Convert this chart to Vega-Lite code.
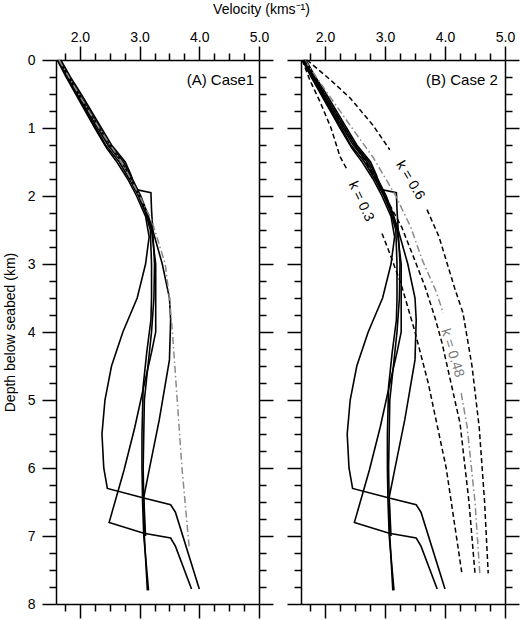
{
  "$schema": "https://vega.github.io/schema/vega-lite/v6.json",
  "padding": {"left": 3, "top": 3, "right": 0, "bottom": 0},
  "background": "white",
  "title": {"text": "Velocity (kms⁻¹)", "fontSize": 14, "fontWeight": "normal", "font": "Liberation Sans", "anchor": "middle", "offset": 13, "color": "black"},
  "config": {
    "view": {"stroke": null},
    "font": "Liberation Sans",
    "axis": {"domainColor": "black", "domainWidth": 1.5, "tickColor": "black", "tickWidth": 1.5, "labelColor": "black", "labelFontSize": 14, "titleColor": "black", "titleFontSize": 14, "titleFontWeight": "normal", "grid": false, "labelFlush": false, "labelOverlap": false}
  },
  "datasets": {
    "profiles": [
      {"id": "P1", "d": 0, "v": 1.62}, {"id": "P1", "d": 0.25, "v": 1.77}, {"id": "P1", "d": 0.5, "v": 1.93}, {"id": "P1", "d": 0.75, "v": 2.09}, {"id": "P1", "d": 1.0, "v": 2.25}, {"id": "P1", "d": 1.3, "v": 2.45}, {"id": "P1", "d": 1.5, "v": 2.62}, {"id": "P1", "d": 1.75, "v": 2.8}, {"id": "P1", "d": 2.0, "v": 2.95}, {"id": "P1", "d": 2.3, "v": 3.1}, {"id": "P1", "d": 2.6, "v": 3.16}, {"id": "P1", "d": 3.0, "v": 3.1}, {"id": "P1", "d": 3.5, "v": 2.96}, {"id": "P1", "d": 4.0, "v": 2.72}, {"id": "P1", "d": 4.5, "v": 2.53}, {"id": "P1", "d": 5.0, "v": 2.42}, {"id": "P1", "d": 5.5, "v": 2.37}, {"id": "P1", "d": 6.0, "v": 2.4}, {"id": "P1", "d": 6.3, "v": 2.46}, {"id": "P1", "d": 6.44, "v": 3.07}, {"id": "P1", "d": 6.54, "v": 3.52}, {"id": "P1", "d": 6.65, "v": 3.6}, {"id": "P1", "d": 7.78, "v": 4.0},
      {"id": "P2", "d": 0, "v": 1.65}, {"id": "P2", "d": 0.25, "v": 1.8}, {"id": "P2", "d": 0.5, "v": 1.97}, {"id": "P2", "d": 0.75, "v": 2.13}, {"id": "P2", "d": 1.0, "v": 2.3}, {"id": "P2", "d": 1.25, "v": 2.47}, {"id": "P2", "d": 1.5, "v": 2.7}, {"id": "P2", "d": 1.75, "v": 2.86}, {"id": "P2", "d": 2.0, "v": 3.0}, {"id": "P2", "d": 2.25, "v": 3.12}, {"id": "P2", "d": 2.5, "v": 3.2}, {"id": "P2", "d": 3.0, "v": 3.27}, {"id": "P2", "d": 3.5, "v": 3.27}, {"id": "P2", "d": 4.0, "v": 3.27}, {"id": "P2", "d": 4.3, "v": 3.2}, {"id": "P2", "d": 4.8, "v": 3.07}, {"id": "P2", "d": 5.4, "v": 2.92}, {"id": "P2", "d": 6.03, "v": 2.74}, {"id": "P2", "d": 6.8, "v": 2.49}, {"id": "P2", "d": 6.96, "v": 3.07}, {"id": "P2", "d": 7.03, "v": 3.52}, {"id": "P2", "d": 7.15, "v": 3.6}, {"id": "P2", "d": 7.78, "v": 3.87},
      {"id": "P3", "d": 0, "v": 1.64}, {"id": "P3", "d": 0.25, "v": 1.79}, {"id": "P3", "d": 0.5, "v": 1.95}, {"id": "P3", "d": 0.75, "v": 2.11}, {"id": "P3", "d": 1.0, "v": 2.27}, {"id": "P3", "d": 1.25, "v": 2.43}, {"id": "P3", "d": 1.5, "v": 2.66}, {"id": "P3", "d": 1.75, "v": 2.83}, {"id": "P3", "d": 2.0, "v": 2.98}, {"id": "P3", "d": 2.25, "v": 3.1}, {"id": "P3", "d": 2.5, "v": 3.18}, {"id": "P3", "d": 3.0, "v": 3.2}, {"id": "P3", "d": 3.5, "v": 3.2}, {"id": "P3", "d": 3.82, "v": 3.19}, {"id": "P3", "d": 4.3, "v": 3.12}, {"id": "P3", "d": 4.8, "v": 3.06}, {"id": "P3", "d": 5.5, "v": 3.04}, {"id": "P3", "d": 6.0, "v": 3.04}, {"id": "P3", "d": 6.5, "v": 3.05}, {"id": "P3", "d": 7.0, "v": 3.07}, {"id": "P3", "d": 7.5, "v": 3.12}, {"id": "P3", "d": 7.8, "v": 3.15},
      {"id": "P4", "d": 0, "v": 1.66}, {"id": "P4", "d": 0.25, "v": 1.82}, {"id": "P4", "d": 0.5, "v": 1.99}, {"id": "P4", "d": 0.75, "v": 2.16}, {"id": "P4", "d": 1.0, "v": 2.33}, {"id": "P4", "d": 1.25, "v": 2.5}, {"id": "P4", "d": 1.5, "v": 2.73}, {"id": "P4", "d": 1.75, "v": 2.88}, {"id": "P4", "d": 2.0, "v": 3.02}, {"id": "P4", "d": 2.25, "v": 3.13}, {"id": "P4", "d": 2.5, "v": 3.22}, {"id": "P4", "d": 3.0, "v": 3.38}, {"id": "P4", "d": 3.5, "v": 3.5}, {"id": "P4", "d": 3.82, "v": 3.52}, {"id": "P4", "d": 4.41, "v": 3.5}, {"id": "P4", "d": 5.29, "v": 3.33}, {"id": "P4", "d": 6.03, "v": 3.16}, {"id": "P4", "d": 6.43, "v": 3.07}, {"id": "P4", "d": 7.0, "v": 3.1},
      {"id": "P5", "d": 0, "v": 1.68}, {"id": "P5", "d": 0.25, "v": 1.84}, {"id": "P5", "d": 0.5, "v": 2.02}, {"id": "P5", "d": 0.75, "v": 2.19}, {"id": "P5", "d": 1.0, "v": 2.36}, {"id": "P5", "d": 1.25, "v": 2.53}, {"id": "P5", "d": 1.5, "v": 2.76}, {"id": "P5", "d": 1.7, "v": 2.86}, {"id": "P5", "d": 1.9, "v": 2.92}, {"id": "P5", "d": 1.95, "v": 3.19}, {"id": "P5", "d": 2.2, "v": 3.2}, {"id": "P5", "d": 2.5, "v": 3.22}, {"id": "P5", "d": 3.0, "v": 3.25}, {"id": "P5", "d": 3.5, "v": 3.24}, {"id": "P5", "d": 4.0, "v": 3.2}, {"id": "P5", "d": 5.0, "v": 3.08}, {"id": "P5", "d": 6.0, "v": 3.06}, {"id": "P5", "d": 7.0, "v": 3.08}, {"id": "P5", "d": 7.8, "v": 3.13}
    ],
    "grayA": [
      {"d": 0, "v": 1.65}, {"d": 0.5, "v": 1.98}, {"d": 1.0, "v": 2.32}, {"d": 1.5, "v": 2.7}, {"d": 2.0, "v": 3.0}, {"d": 2.35, "v": 3.2}, {"d": 3.0, "v": 3.43}, {"d": 3.5, "v": 3.5}, {"d": 4.0, "v": 3.55}, {"d": 5.0, "v": 3.63}, {"d": 6.0, "v": 3.71}, {"d": 7.16, "v": 3.83}
    ],
    "curvesB": [
      {"curve": "k0.3", "seg": "a", "d": 0, "v": 1.62}, {"curve": "k0.3", "seg": "a", "d": 0.3, "v": 1.75}, {"curve": "k0.3", "seg": "a", "d": 0.62, "v": 1.92}, {"curve": "k0.3", "seg": "a", "d": 1.0, "v": 2.1}, {"curve": "k0.3", "seg": "a", "d": 1.42, "v": 2.25}, {"curve": "k0.3", "seg": "a", "d": 1.6, "v": 2.36},
      {"curve": "k0.3", "seg": "b", "d": 2.55, "v": 2.95}, {"curve": "k0.3", "seg": "b", "d": 2.8, "v": 3.06}, {"curve": "k0.3", "seg": "b", "d": 3.3, "v": 3.27}, {"curve": "k0.3", "seg": "b", "d": 4.0, "v": 3.5}, {"curve": "k0.3", "seg": "b", "d": 4.75, "v": 3.72}, {"curve": "k0.3", "seg": "b", "d": 6.0, "v": 4.02}, {"curve": "k0.3", "seg": "b", "d": 7.54, "v": 4.28},
      {"curve": "kx", "seg": "a", "d": 0, "v": 1.65}, {"curve": "kx", "seg": "a", "d": 0.5, "v": 1.98}, {"curve": "kx", "seg": "a", "d": 1.0, "v": 2.33}, {"curve": "kx", "seg": "a", "d": 1.5, "v": 2.68}, {"curve": "kx", "seg": "a", "d": 2.0, "v": 3.0}, {"curve": "kx", "seg": "a", "d": 2.46, "v": 3.28}, {"curve": "kx", "seg": "a", "d": 2.84, "v": 3.45}, {"curve": "kx", "seg": "a", "d": 3.34, "v": 3.67}, {"curve": "kx", "seg": "a", "d": 3.78, "v": 3.83}, {"curve": "kx", "seg": "a", "d": 4.16, "v": 3.95}, {"curve": "kx", "seg": "a", "d": 5.34, "v": 4.25}, {"curve": "kx", "seg": "a", "d": 6.5, "v": 4.4}, {"curve": "kx", "seg": "a", "d": 7.55, "v": 4.5},
      {"curve": "k0.6", "seg": "a", "d": 0, "v": 1.7}, {"curve": "k0.6", "seg": "a", "d": 0.3, "v": 2.1}, {"curve": "k0.6", "seg": "a", "d": 0.56, "v": 2.42}, {"curve": "k0.6", "seg": "a", "d": 0.96, "v": 2.8}, {"curve": "k0.6", "seg": "a", "d": 1.32, "v": 3.08},
      {"curve": "k0.6", "seg": "b", "d": 2.2, "v": 3.7}, {"curve": "k0.6", "seg": "b", "d": 2.6, "v": 3.9}, {"curve": "k0.6", "seg": "b", "d": 3.38, "v": 4.17}, {"curve": "k0.6", "seg": "b", "d": 3.72, "v": 4.3}, {"curve": "k0.6", "seg": "b", "d": 4.5, "v": 4.45}, {"curve": "k0.6", "seg": "b", "d": 5.4, "v": 4.57}, {"curve": "k0.6", "seg": "b", "d": 6.5, "v": 4.66}, {"curve": "k0.6", "seg": "b", "d": 7.55, "v": 4.72}
    ],
    "grayB": [
      {"seg": "a", "d": 0, "v": 1.66}, {"seg": "a", "d": 0.5, "v": 2.05}, {"seg": "a", "d": 1.0, "v": 2.45}, {"seg": "a", "d": 1.43, "v": 2.8}, {"seg": "a", "d": 2.0, "v": 3.18}, {"seg": "a", "d": 2.46, "v": 3.43}, {"seg": "a", "d": 2.94, "v": 3.62}, {"seg": "a", "d": 3.4, "v": 3.85}, {"seg": "a", "d": 3.72, "v": 3.97},
      {"seg": "b", "d": 4.9, "v": 4.27}, {"seg": "b", "d": 5.4, "v": 4.37}, {"seg": "b", "d": 6.5, "v": 4.5}, {"seg": "b", "d": 7.55, "v": 4.58}
    ]
  },
  "hconcat": [
    {
      "width": 203,
      "height": 544,
      "layer": [
        {
          "data": {"name": "profiles"},
          "mark": {"type": "line", "color": "black", "strokeWidth": 1.6},
          "encoding": {
            "x": {"field": "v", "type": "quantitative", "scale": {"domain": [1.6, 5], "nice": false, "zero": false},
              "axis": {"orient": "top", "title": null, "values": [1.75, 2, 2.25, 2.5, 2.75, 3, 3.25, 3.5, 3.75, 4, 4.25, 4.5, 4.75, 5], "labelExpr": "datum.value % 1 === 0 ? format(datum.value, '.1f') : ''", "labelPadding": 2, "tickSize": {"condition": {"test": "datum.value % 1 === 0", "value": 14}, "value": 7}}},
            "y": {"field": "d", "type": "quantitative", "scale": {"domain": [0, 8], "reverse": true, "nice": false, "zero": false},
              "axis": {"orient": "left", "title": "Depth below seabed (km)", "titlePadding": 10, "values": [0, 0.25, 0.5, 0.75, 1, 1.25, 1.5, 1.75, 2, 2.25, 2.5, 2.75, 3, 3.25, 3.5, 3.75, 4, 4.25, 4.5, 4.75, 5, 5.25, 5.5, 5.75, 6, 6.25, 6.5, 6.75, 7, 7.25, 7.5, 7.75, 8], "labelExpr": "datum.value % 1 === 0 ? format(datum.value, 'd') : ''", "labelPadding": 7, "tickSize": {"condition": {"test": "datum.value % 1 === 0", "value": 14}, "value": 7}}},
            "detail": {"field": "id"},
            "order": {"field": "d", "type": "quantitative"}
          }
        },
        {
          "data": {"name": "grayA"},
          "mark": {"type": "line", "color": "#8a8a8a", "strokeWidth": 1.5, "strokeDash": [7, 3, 1.5, 3]},
          "encoding": {
            "x": {"field": "v", "type": "quantitative",
              "axis": {"orient": "bottom", "title": null, "labels": false, "values": [1.75, 2, 2.25, 2.5, 2.75, 3, 3.25, 3.5, 3.75, 4, 4.25, 4.5, 4.75, 5], "tickSize": {"condition": {"test": "datum.value % 1 === 0", "value": 14}, "value": 7}}},
            "y": {"field": "d", "type": "quantitative",
              "axis": {"orient": "right", "title": null, "labels": false, "values": [0, 0.25, 0.5, 0.75, 1, 1.25, 1.5, 1.75, 2, 2.25, 2.5, 2.75, 3, 3.25, 3.5, 3.75, 4, 4.25, 4.5, 4.75, 5, 5.25, 5.5, 5.75, 6, 6.25, 6.5, 6.75, 7, 7.25, 7.5, 7.75, 8], "tickSize": {"condition": {"test": "datum.value % 1 === 0", "value": 14}, "value": 7}}},
            "order": {"field": "d", "type": "quantitative"}
          }
        },
        {
          "data": {"values": [{}]},
          "mark": {"type": "text", "align": "right", "baseline": "middle", "fontSize": 15, "color": "black"},
          "encoding": {
            "x": {"datum": 4.92, "type": "quantitative", "axis": null},
            "y": {"datum": 0.29, "type": "quantitative", "axis": null},
            "text": {"value": "(A) Case1"}
          }
        }
      ],
      "resolve": {"axis": {"x": "independent", "y": "independent"}}
    },
    {
      "width": 204,
      "height": 544,
      "layer": [
        {
          "data": {"name": "profiles"},
          "mark": {"type": "line", "color": "black", "strokeWidth": 1.6},
          "encoding": {
            "x": {"field": "v", "type": "quantitative", "scale": {"domain": [1.6, 5], "nice": false, "zero": false},
              "axis": {"orient": "top", "title": null, "values": [1.75, 2, 2.25, 2.5, 2.75, 3, 3.25, 3.5, 3.75, 4, 4.25, 4.5, 4.75, 5], "labelExpr": "datum.value % 1 === 0 ? format(datum.value, '.1f') : ''", "labelPadding": 2, "tickSize": {"condition": {"test": "datum.value % 1 === 0", "value": 14}, "value": 7}}},
            "y": {"field": "d", "type": "quantitative", "scale": {"domain": [0, 8], "reverse": true, "nice": false, "zero": false},
              "axis": {"orient": "left", "title": null, "labels": false, "values": [0, 0.25, 0.5, 0.75, 1, 1.25, 1.5, 1.75, 2, 2.25, 2.5, 2.75, 3, 3.25, 3.5, 3.75, 4, 4.25, 4.5, 4.75, 5, 5.25, 5.5, 5.75, 6, 6.25, 6.5, 6.75, 7, 7.25, 7.5, 7.75, 8], "tickSize": {"condition": {"test": "datum.value % 1 === 0", "value": 14}, "value": 7}}},
            "detail": {"field": "id"},
            "order": {"field": "d", "type": "quantitative"}
          }
        },
        {
          "data": {"name": "grayB"},
          "mark": {"type": "line", "color": "#8a8a8a", "strokeWidth": 1.5, "strokeDash": [7, 3, 1.5, 3]},
          "encoding": {
            "x": {"field": "v", "type": "quantitative",
              "axis": {"orient": "bottom", "title": null, "labels": false, "values": [1.75, 2, 2.25, 2.5, 2.75, 3, 3.25, 3.5, 3.75, 4, 4.25, 4.5, 4.75, 5], "tickSize": {"condition": {"test": "datum.value % 1 === 0", "value": 14}, "value": 7}}},
            "y": {"field": "d", "type": "quantitative",
              "axis": {"orient": "right", "title": null, "labels": false, "values": [0, 0.25, 0.5, 0.75, 1, 1.25, 1.5, 1.75, 2, 2.25, 2.5, 2.75, 3, 3.25, 3.5, 3.75, 4, 4.25, 4.5, 4.75, 5, 5.25, 5.5, 5.75, 6, 6.25, 6.5, 6.75, 7, 7.25, 7.5, 7.75, 8], "tickSize": {"condition": {"test": "datum.value % 1 === 0", "value": 14}, "value": 7}}},
            "detail": {"field": "seg"},
            "order": {"field": "d", "type": "quantitative"}
          }
        },
        {
          "data": {"name": "curvesB"},
          "mark": {"type": "line", "color": "black", "strokeWidth": 1.5, "strokeDash": [5, 3]},
          "encoding": {
            "x": {"field": "v", "type": "quantitative", "axis": null},
            "y": {"field": "d", "type": "quantitative", "axis": null},
            "detail": [{"field": "curve"}, {"field": "seg"}],
            "order": {"field": "d", "type": "quantitative"}
          }
        },
        {
          "data": {"values": [{}]},
          "mark": {"type": "text", "align": "right", "baseline": "middle", "fontSize": 15, "color": "black"},
          "encoding": {
            "x": {"datum": 4.88, "type": "quantitative", "axis": null},
            "y": {"datum": 0.29, "type": "quantitative", "axis": null},
            "text": {"value": "(B) Case 2"}
          }
        },
        {
          "data": {"values": [{}]},
          "mark": {"type": "text", "align": "center", "baseline": "middle", "fontSize": 14, "color": "black", "angle": 59},
          "encoding": {
            "x": {"datum": 3.42, "type": "quantitative", "axis": null},
            "y": {"datum": 1.77, "type": "quantitative", "axis": null},
            "text": {"value": "k = 0.6"}
          }
        },
        {
          "data": {"values": [{}]},
          "mark": {"type": "text", "align": "center", "baseline": "middle", "fontSize": 14, "color": "black", "angle": 65},
          "encoding": {
            "x": {"datum": 2.6, "type": "quantitative", "axis": null},
            "y": {"datum": 2.08, "type": "quantitative", "axis": null},
            "text": {"value": "k = 0.3"}
          }
        },
        {
          "data": {"values": [{}]},
          "mark": {"type": "text", "align": "center", "baseline": "middle", "fontSize": 14, "color": "#7a7a7a", "angle": 73},
          "encoding": {
            "x": {"datum": 4.12, "type": "quantitative", "axis": null},
            "y": {"datum": 4.31, "type": "quantitative", "axis": null},
            "text": {"value": "k = 0.48"}
          }
        }
      ],
      "resolve": {"axis": {"x": "independent", "y": "independent"}}
    }
  ],
  "spacing": 42,
  "bounds": "flush"
}
